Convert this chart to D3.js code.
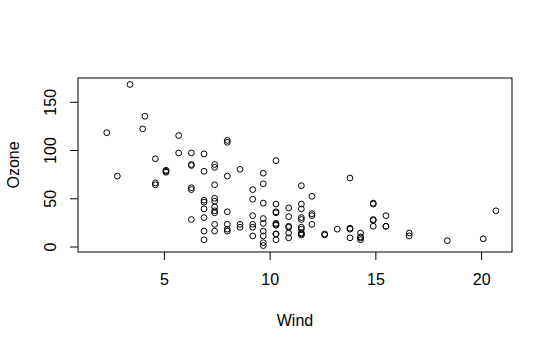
<!DOCTYPE html>
<html>
<head>
<meta charset="utf-8">
<script src="https://cdn.jsdelivr.net/npm/d3@7"></script>
<style>
  body { margin: 0; background: #fff; }
  svg text { font-family: "Liberation Sans", Arial, sans-serif; font-size: 16px; fill: #000; }
</style>
</head>
<body>
<div id="chart"></div>
<script>
(function() {
    'use strict';

    // airquality: complete Ozone/Wind pairs
    let wind = [7.4, 8.0, 12.6, 11.5, 14.9, 8.6, 13.8, 20.1, 6.9, 9.7, 9.2, 10.9, 13.2, 11.5,
        12.0, 18.4, 11.5, 9.7, 9.7, 16.6, 9.7, 12.0, 12.0, 14.9, 5.7, 7.4, 9.7, 13.8, 11.5,
        8.0, 14.9, 20.7, 9.2, 11.5, 10.3, 4.1, 9.2, 9.2, 4.6, 10.9, 5.1, 6.3, 5.7, 7.4,
        14.3, 14.9, 14.3, 6.9, 10.3, 6.3, 5.1, 11.5, 6.9, 8.6, 8.0, 8.6, 12.0, 7.4, 7.4,
        7.4, 9.2, 6.9, 13.8, 7.4, 6.9, 7.4, 4.6, 4.0, 10.3, 8.0, 11.5, 11.5, 9.7, 10.3,
        6.3, 7.4, 10.9, 10.3, 15.5, 14.3, 9.7, 3.4, 8.0, 9.7, 2.3, 6.3, 6.3, 6.9, 5.1,
        2.8, 4.6, 7.4, 15.5, 10.9, 10.3, 10.9, 9.7, 14.9, 15.5, 6.3, 10.9, 11.5, 6.9,
        13.8, 10.3, 10.3, 8.0, 12.6, 9.2, 10.3, 10.3, 16.6, 6.9, 14.3, 8.0, 11.5];
    let ozone = [41, 36, 12, 18, 28, 23, 19, 8, 7, 16, 11, 14, 18, 14,
        34, 6, 30, 11, 1, 11, 4, 32, 23, 45, 115, 37, 29, 71, 39,
        23, 21, 37, 20, 12, 13, 135, 49, 32, 64, 40, 77, 97, 97, 85,
        10, 27, 7, 48, 35, 61, 79, 63, 16, 80, 108, 20, 52, 82, 50,
        64, 59, 39, 9, 16, 78, 35, 66, 122, 89, 110, 44, 28, 65, 22,
        59, 23, 31, 44, 21, 9, 45, 168, 73, 76, 118, 84, 85, 96, 78,
        73, 91, 47, 32, 20, 23, 21, 24, 44, 21, 28, 9, 13, 46,
        18, 13, 24, 16, 13, 23, 36, 7, 14, 30, 14, 18, 20];
    // range of the whole Wind column (rows with missing Ozone included)
    let windRange = [1.7, 20.7];
    let xTicks = [5, 10, 15, 20];
    let yTicks = [0, 50, 100, 150];

    let width = 553, height = 350;
    let margin = { left: 78, right: 41, top: 78, bottom: 98 };

    let svg = d3.select("#chart").append("svg")
        .attr("width", width)
        .attr("height", height);

    // R style 4% padding on each side
    let xr = windRange, yr = d3.extent(ozone);
    let xp = (xr[1] - xr[0]) * 0.04, yp = (yr[1] - yr[0]) * 0.04;

    let x = d3.scaleLinear()
        .domain([xr[0] - xp, xr[1] + xp])
        .range([margin.left, width - margin.right]);
    let y = d3.scaleLinear()
        .domain([yr[0] - yp, yr[1] + yp])
        .range([height - margin.bottom, margin.top]);

    let xAxis = svg.append("g")
        .attr("transform", "translate(0," + (height - margin.bottom) + ")")
        .call(d3.axisBottom(x).tickValues(xTicks).tickSize(8).tickPadding(14));
    xAxis.select(".domain").remove();

    let yAxis = svg.append("g")
        .attr("transform", "translate(" + margin.left + ",0)")
        .call(d3.axisLeft(y).tickValues(yTicks).tickSize(8).tickPadding(8));
    yAxis.select(".domain").remove();
    yAxis.selectAll(".tick text")
        .attr("text-anchor", "middle")
        .attr("dy", "0")
        .attr("transform", "translate(-22,0)rotate(-90)")
        .attr("x", 0);

    svg.selectAll(".tick line").attr("stroke", "#000");
    svg.selectAll(".tick text").style("font-size", "16px");

    svg.append("rect")
        .attr("x", margin.left)
        .attr("y", margin.top)
        .attr("width", width - margin.left - margin.right)
        .attr("height", height - margin.top - margin.bottom)
        .attr("fill", "none")
        .attr("stroke", "#000");

    svg.append("g").selectAll("circle")
        .data(d3.range(wind.length))
        .enter()
        .append("circle")
        .attr("cx", function(i) { return x(wind[i]); })
        .attr("cy", function(i) { return y(ozone[i]); })
        .attr("r", 2.9)
        .attr("fill", "none")
        .attr("stroke", "#000")
        .attr("stroke-width", 1);

    svg.append("text")
        .attr("x", (margin.left + width - margin.right) / 2)
        .attr("y", 326)
        .attr("text-anchor", "middle")
        .text("Wind");

    svg.append("text")
        .attr("transform", "translate(19," + ((margin.top + height - margin.bottom) / 2) + ")rotate(-90)")
        .attr("text-anchor", "middle")
        .text("Ozone");
})();
</script>
</body>
</html>
